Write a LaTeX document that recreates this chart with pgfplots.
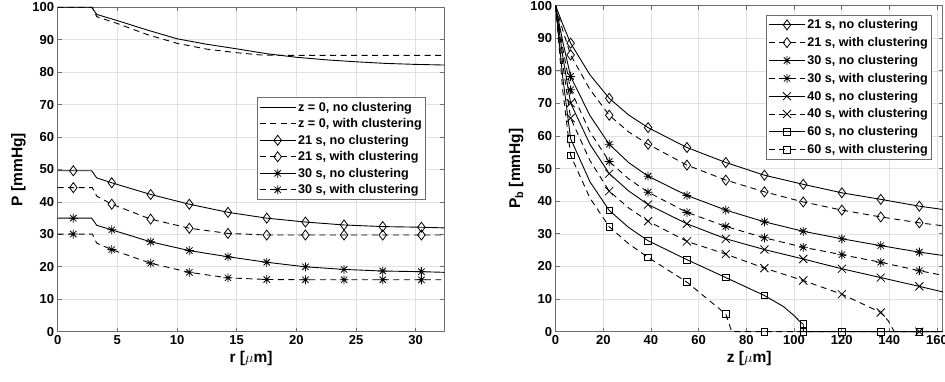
\documentclass[border=0pt]{standalone}
\usepackage{fontspec}
\setmainfont{Liberation Sans}
\usepackage{pgfplots}
\pgfplotsset{compat=1.18}
\pgfdeclareplotmark{mast}{%
  \pgfpathmoveto{\pgfqpoint{-\pgfplotmarksize}{0pt}}\pgfpathlineto{\pgfqpoint{\pgfplotmarksize}{0pt}}%
  \pgfpathmoveto{\pgfqpoint{0pt}{-\pgfplotmarksize}}\pgfpathlineto{\pgfqpoint{0pt}{\pgfplotmarksize}}%
  \pgfpathmoveto{\pgfqpoint{-.707\pgfplotmarksize}{-.707\pgfplotmarksize}}\pgfpathlineto{\pgfqpoint{.707\pgfplotmarksize}{.707\pgfplotmarksize}}%
  \pgfpathmoveto{\pgfqpoint{-.707\pgfplotmarksize}{.707\pgfplotmarksize}}\pgfpathlineto{\pgfqpoint{.707\pgfplotmarksize}{-.707\pgfplotmarksize}}%
  \pgfusepathqstroke}
\definecolor{gridc}{RGB}{225,225,225}
\definecolor{axc}{RGB}{110,110,110}
\pgfplotsset{
  mystyle/.style={
    scale only axis, anchor=south west,
    axis line style={axc, line width=0.8pt},
    major tick style={axc, line width=0.8pt},
    major tick length=4pt,
    grid=major, major grid style={gridc, line width=0.7pt},
    ymin=0, ymax=100, ytick={0,10,...,100},
    /pgf/number format/assume math mode=true,
    tick label style={font=\fontsize{13}{15}\selectfont\bfseries},
    label style={font=\fontsize{15.5}{18}\selectfont\bfseries},
    legend style={font=\fontsize{12.6}{14}\selectfont\bfseries, draw=axc, line width=0.8pt,
      inner sep=2pt, cells={anchor=west}},
    legend image code/.code={\draw[##1, mark indices={2}] plot coordinates {(0pt,0pt) (18pt,0pt) (36pt,0pt)};},
    every axis plot/.append style={black, line width=0.9pt},
    clip=false,
  },
  nc/.style={solid},
  wc/.style={dash pattern=on 6pt off 4.5pt},
  md/.style={mark=diamond, mark size=5pt, mark options={solid, fill=white, line width=0.8pt}},
  ma/.style={mark=mast, mark size=4.5pt, mark options={solid, line width=0.8pt}},
  mx/.style={mark=x, mark size=5.7pt, mark options={solid, line width=0.8pt}},
  ms/.style={mark=square, mark size=3.3pt, mark options={solid, fill=white, line width=0.8pt}},
}
\begin{document}
\begin{tikzpicture}
\useasboundingbox (0,0) rectangle (945pt,382pt);
% ---------------- left axis ----------------
\begin{axis}[mystyle, at={(57.7pt,50.3pt)}, width=386.6pt, height=324.4pt,
  xmin=0, xmax=32.4, xtick={0,5,...,30},
  xlabel={r [$\mu$m]}, ylabel={P [mmHg]},
  legend style={at={(0.953,0.722)}, anchor=north east, row sep=1.9pt}]
\addplot[nc] coordinates {(0,100)(2.85,100)(3.27,97.8)(5,95.9)(7.5,93.0)(10,90.3)(12.5,88.6)(15,87.2)(17.5,85.7)(20,84.6)(22.5,83.8)(25,83.2)(27.5,82.7)(30,82.4)(32.4,82.2)};
\addlegendentry{z = 0, no clustering}
\addplot[wc] coordinates {(0,100)(2.9,100)(3.27,97.1)(5,95.0)(7.5,91.6)(10,88.9)(12.5,87.1)(15,86.0)(17,85.3)(18.5,85.2)(32.4,85.2)};
\addlegendentry{z = 0, with clustering}
\addplot[nc, md, mark indices={2,5,6,7,8,9,10,11,12,13}] coordinates {(0,49.6)(1.31,49.6)(2.85,49.6)(3.27,47.4)(4.53,45.9)(7.79,42.3)(11.03,39.3)(14.27,36.8)(17.52,35.0)(20.76,33.8)(24.0,32.9)(27.24,32.4)(30.48,32.2)(32.4,32.0)};
\addlegendentry{21 s, no clustering}
\addplot[wc, md, mark indices={2,5,6,7,8,9,10,11,12,13}] coordinates {(0,44.4)(1.31,44.4)(2.9,44.4)(3.27,41.8)(4.53,39.3)(7.79,34.7)(11.03,31.9)(14.27,30.3)(17.52,29.8)(20.76,29.8)(24.0,29.8)(27.24,29.8)(30.48,29.8)(32.4,29.8)};
\addlegendentry{21 s, with clustering}
\addplot[nc, ma, mark indices={2,5,6,7,8,9,10,11,12,13}] coordinates {(0,35.0)(1.31,35.0)(2.85,35.0)(3.27,32.8)(4.53,31.4)(7.79,27.7)(11.03,25.0)(14.27,23.1)(17.52,21.4)(20.76,20.0)(24.0,19.2)(27.24,18.7)(30.48,18.5)(32.4,18.3)};
\addlegendentry{30 s, no clustering}
\addplot[wc, ma, mark indices={2,5,6,7,8,9,10,11,12,13}] coordinates {(0,30.1)(1.31,30.1)(2.9,30.1)(3.27,27.3)(4.53,25.3)(7.79,21.1)(11.03,18.3)(14.27,16.6)(17.52,16.1)(20.76,16.0)(24.0,16.0)(27.24,16.0)(30.48,16.0)(32.4,16.0)};
\addlegendentry{30 s, with clustering}
\end{axis}
% ---------------- right axis ----------------
\begin{axis}[mystyle, at={(555.6pt,50.3pt)}, width=387.1pt, height=326pt,
  xmin=0, xmax=162.4, xtick={0,20,...,160},
  xlabel={z [$\mu$m]}, ylabel={P$_\mathbf{b}$ [mmHg]},
  legend style={at={(0.973,0.971)}, anchor=north east, row sep=3.2pt}]
\addplot[nc, md, mark indices={3,5,7,8,9,10,11,12,13,14}] coordinates {(0,100)(3,94.3)(6.3,88.5)(14.4,78.8)(22.5,71.6)(30.6,66.5)(38.8,62.6)(55.1,56.5)(71.4,51.9)(87.6,48.0)(103.9,45.2)(120.1,42.6)(136.4,40.6)(152.6,38.5)(162.4,37.5)};
\addlegendentry{21 s, no clustering}
\addplot[wc, md, mark indices={3,5,7,8,9,10,11,12,13,14}] coordinates {(0,100)(3,92.5)(6.3,84.9)(14.4,74.3)(22.5,66.4)(30.6,61.3)(38.8,57.5)(55.1,51.1)(71.4,46.5)(87.6,42.9)(103.9,39.8)(120.1,37.3)(136.4,35.2)(152.6,33.4)(162.4,32.5)};
\addlegendentry{21 s, with clustering}
\addplot[nc, ma, mark indices={3,5,7,8,9,10,11,12,13,14}] coordinates {(0,100)(3,89.0)(6.3,78.3)(14.4,66.3)(22.5,57.5)(30.6,51.9)(38.8,47.7)(55.1,41.8)(71.4,37.3)(87.6,33.7)(103.9,30.8)(120.1,28.5)(136.4,26.4)(152.6,24.4)(162.4,23.4)};
\addlegendentry{30 s, no clustering}
\addplot[wc, ma, mark indices={3,5,7,8,9,10,11,12,13,14}] coordinates {(0,100)(3,87.0)(6.3,74.2)(14.4,61.3)(22.5,52.2)(30.6,46.9)(38.8,42.8)(55.1,36.6)(71.4,32.3)(87.6,28.8)(103.9,25.9)(120.1,23.6)(136.4,21.3)(152.6,18.7)(162.4,17.3)};
\addlegendentry{30 s, with clustering}
\addplot[nc, mx, mark indices={3,5,7,8,9,10,11,12,13,14}] coordinates {(0,100)(3,84.5)(6.3,70.1)(14.4,57.5)(22.5,48.5)(30.6,43.2)(38.8,39.0)(55.1,33.1)(71.4,28.5)(87.6,25.2)(103.9,22.3)(120.1,19.3)(136.4,16.6)(152.6,13.9)(162.4,12.2)};
\addlegendentry{40 s, no clustering}
\addplot[wc, mx, mark indices={3,5,7,8,9,10,11,12,13,16}] coordinates {(0,100)(3,82.0)(6.3,65.5)(14.4,52.5)(22.5,43.1)(30.6,38.0)(38.8,33.9)(55.1,27.7)(71.4,23.8)(87.6,19.5)(103.9,15.7)(120.1,11.5)(136.4,5.9)(139.5,3.4)(142.1,0)(152.6,0)(162.4,0)};
\addlegendentry{40 s, with clustering}
\addplot[nc, ms, mark indices={3,5,7,8,9,10,14,16,17,18}] coordinates {(0,100)(3,78.0)(6.3,59.2)(14.4,46.0)(22.5,37.2)(30.6,32.0)(38.8,27.9)(55.1,22.1)(71.4,16.6)(87.6,11.1)(95.6,7.7)(99.8,5.1)(102.5,3.1)(103.9,2.3)(103.95,0)(120.1,0)(136.4,0)(152.6,0)(162.4,0)};
\addlegendentry{60 s, no clustering}
\addplot[wc, ms, mark indices={3,5,7,8,9,11,12,13,14,15}] coordinates {(0,100)(3,74.0)(6.3,54.1)(14.4,41.0)(22.5,32.2)(30.6,27.0)(38.8,22.8)(55.1,15.2)(71.4,5.4)(73.9,0)(87.6,0)(103.9,0)(120.1,0)(136.4,0)(152.6,0)(162.4,0)};
\addlegendentry{60 s, with clustering}
\end{axis}
\end{tikzpicture}
\end{document}
